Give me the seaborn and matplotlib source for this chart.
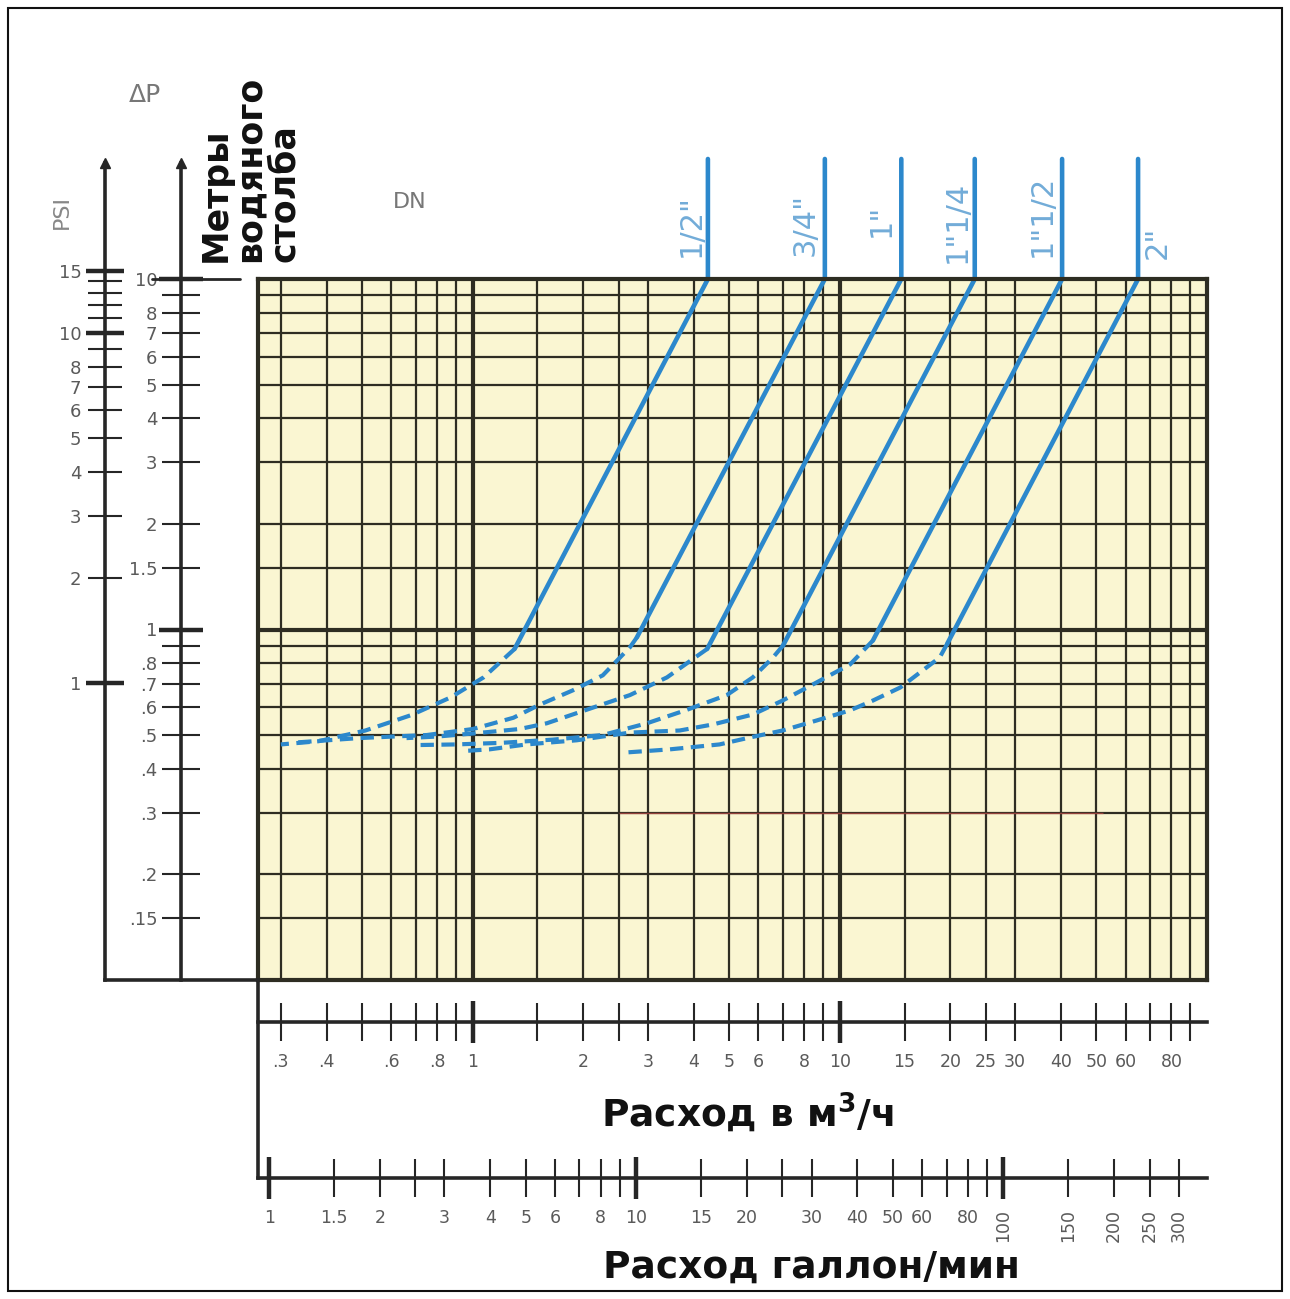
import matplotlib
matplotlib.use('Agg')
import matplotlib.pyplot as plt
from matplotlib.patches import Rectangle
from matplotlib.ticker import FixedLocator, FixedFormatter, NullFormatter
import pandas as pd
import seaborn as sns

# pressure drop curves per pipe size: flow in m3/h, dP in metres of water
sizes = ['1/2"', '3/4"', '1"', '1"1/4', '1"1/2', '2"']
q_top = [4.37, 9.1, 14.7, 23.3, 40.3, 64.9]      # flow where each curve meets the 10 m line
q_knee = [1.30, 2.80, 4.35, 7.0, 12.3, 19.6]     # end of the solid part
p_knee = [0.88, 0.95, 0.88, 0.90, 0.93, 0.91]
p_lead = 22.0                                    # top of the vertical leaders

dash_q = [
    [1.30, 1.07, 0.87, 0.68, 0.51, 0.38, 0.30],
    [2.80, 2.68, 2.26, 1.87, 1.52, 1.29, 1.00, 0.75, 0.49, 0.32],
    [4.35, 4.15, 3.38, 2.68, 2.04, 1.59, 1.34, 1.00, 0.80, 0.66],
    [7.0, 6.56, 5.79, 4.92, 3.83, 2.98, 2.26, 1.65, 1.20, 0.90, 0.70],
    [12.3, 10.66, 8.44, 6.98, 5.79, 4.51, 3.66, 2.68, 1.92, 1.40, 1.11, 0.94],
    [19.6, 18.7, 16.8, 14.6, 12.3, 10.66, 8.64, 6.98, 5.69, 4.70, 3.44, 2.63],
]
dash_p = [
    [0.88, 0.73, 0.64, 0.57, 0.515, 0.48, 0.47],
    [0.95, 0.89, 0.74, 0.67, 0.61, 0.56, 0.52, 0.50, 0.49, 0.475],
    [0.88, 0.85, 0.73, 0.65, 0.59, 0.54, 0.52, 0.505, 0.495, 0.49],
    [0.90, 0.83, 0.73, 0.65, 0.59, 0.54, 0.50, 0.485, 0.475, 0.47, 0.468],
    [0.93, 0.795, 0.697, 0.627, 0.572, 0.536, 0.515, 0.508, 0.483, 0.47, 0.455, 0.45],
    [0.91, 0.832, 0.764, 0.683, 0.627, 0.588, 0.550, 0.515, 0.492, 0.47, 0.455, 0.446],
]

# paper grid
grid_x_major = [1, 10]
grid_x_minor = [0.3, 0.4, 0.5, 0.6, 0.7, 0.8, 0.9, 1.5, 2, 2.5, 3, 4, 5, 6, 7, 8, 9,
                15, 20, 25, 30, 40, 50, 60, 70, 80, 90]
grid_y_major = [1]
grid_y_minor = [0.15, 0.2, 0.3, 0.4, 0.5, 0.6, 0.7, 0.8, 0.9, 1.5, 2, 3, 4, 5, 6, 7, 8, 9]

# left scales
m_major = [1, 10]
m_minor = [0.15, 0.2, 0.3, 0.4, 0.5, 0.6, 0.7, 0.8, 0.9, 1.5, 2, 3, 4, 5, 6, 7, 8, 9]
m_minor_labels = ['.15', '.2', '.3', '.4', '.5', '.6', '.7', '.8', '', '1.5',
                  '2', '3', '4', '5', '6', '7', '8', '']
PSI_TO_M = 0.703
psi_major = [1, 10, 15]
psi_minor = [2, 3, 4, 5, 6, 7, 8, 9, 11, 12, 13, 14]
psi_minor_labels = ['2', '3', '4', '5', '6', '7', '8', '', '', '', '', '']

# bottom scales
m3_major = [1, 10]
m3_minor = grid_x_minor
m3_minor_labels = ['.3', '.4', '', '.6', '', '.8', '', '', '2', '', '3', '4', '5', '6', '',
                   '8', '', '15', '20', '25', '30', '40', '50', '60', '', '80', '']
GAL_TO_M3 = 0.279
gal_major = [1, 10, 100]
gal_minor = [1.5, 2, 2.5, 3, 4, 5, 6, 7, 8, 9, 15, 20, 25, 30, 40, 50, 60, 70, 80, 90,
             150, 200, 250, 300]
gal_minor_labels = ['1.5', '2', '', '3', '4', '5', '6', '', '8', '', '15', '20', '', '30',
                    '40', '50', '60', '', '80', '', '150', '200', '250', '300']

# faint red line printed across the chart at 0.3 m
red_q = [2.5, 52]
red_p = 0.3

BLUE = '#2c88cc'
LABEL_BLUE = '#72acd8'
GRID = '#2e2d22'
PAPER = '#faf6d2'
GRAY = '#5a5a5a'
INK = '#262626'

W, H = 1290, 1299
sns.set_style('white')
plt.rcParams['font.family'] = ['DejaVu Sans']
plt.rcParams['mathtext.fontset'] = 'dejavusans'


def rect(x0, y0, x1, y1):
    return [x0 / W, 1 - y1 / H, (x1 - x0) / W, (y1 - y0) / H]


def m_at(ypx):
    # metres value at a pixel row, same log scale as the grid
    return 0.1 * 10 ** ((980 - ypx) / 350.5)


def scale_ticks(a, axis, length, pad):
    side = dict(left=True) if axis == 'y' else dict(bottom=True)
    a.tick_params(axis=axis, which='both', direction='inout', length=length, width=1.5,
                  color=INK, labelsize=13 if axis == 'y' else 12.5, labelcolor=GRAY,
                  pad=pad, **side)
    a.tick_params(axis=axis, which='major', width=3.2, length=length + 3, pad=pad - 1.5)


fig = plt.figure(figsize=(W / 100, H / 100), dpi=100)
fig.add_artist(Rectangle((8 / W, 8 / H), 1 - 16 / W, 1 - 16 / H, transform=fig.transFigure,
                         fill=False, lw=1.5, ec='#111111'))

# ---- main grid ----
ax = fig.add_axes(rect(258, 279, 1207, 980))
ax.set_facecolor(PAPER)
ax.set_xscale('log')
ax.set_yscale('log')

rows = []
for s, qt, qk, pk in zip(sizes, q_top, q_knee, p_knee):
    rows += [(s, qt, p_lead), (s, qt, 10.0), (s, qk, pk)]
solid = pd.DataFrame(rows, columns=['size', 'q', 'p'])
dash = pd.DataFrame([(s, q, p) for s, qs, ps in zip(sizes, dash_q, dash_p)
                     for q, p in zip(qs, ps)], columns=['size', 'q', 'p'])

ax.hlines(red_p, red_q[0], red_q[1], color='#d9534f', lw=1.0, alpha=0.6, zorder=1)
sns.lineplot(data=solid, x='q', y='p', units='size', estimator=None, sort=False,
             color=BLUE, lw=3.3, ax=ax, clip_on=False, solid_joinstyle='miter')
sns.lineplot(data=dash, x='q', y='p', units='size', estimator=None, sort=False,
             color=BLUE, lw=3.0, linestyle=(0, (3.2, 1.8)), ax=ax)

ax.set_xlim(0.26, 100)
ax.set_ylim(0.1, 10)
ax.set_xlabel('')
ax.set_ylabel('')
ax.xaxis.set_major_locator(FixedLocator(grid_x_major))
ax.xaxis.set_minor_locator(FixedLocator(grid_x_minor))
ax.yaxis.set_major_locator(FixedLocator(grid_y_major))
ax.yaxis.set_minor_locator(FixedLocator(grid_y_minor))
for a in (ax.xaxis, ax.yaxis):
    a.set_major_formatter(NullFormatter())
    a.set_minor_formatter(NullFormatter())
ax.tick_params(which='both', length=0)
ax.set_axisbelow(True)
ax.grid(which='major', color=GRID, lw=3.0)
ax.grid(which='minor', color=GRID, lw=1.6)
for sp in ax.spines.values():
    sp.set_color(GRID)
    sp.set_linewidth(3.0)

label_offsets = [(-17, 53), (-20, 55), (-20, 59), (-18, 57), (-20, 63), (19, 37)]
for s, qt, off in zip(sizes, q_top, label_offsets):
    ax.annotate(s, xy=(qt, 10), xytext=off, textcoords='offset pixels', rotation=90,
                ha='center', va='center', fontsize=22, color=LABEL_BLUE,
                annotation_clip=False)

# ---- left scales: PSI and metres ----
ax_psi = fig.add_axes(rect(105, 163, 258, 980))
ax_psi.patch.set_visible(False)
ax_psi.set_yscale('log')
ax_psi.set_ylim(m_at(980) / PSI_TO_M, m_at(163) / PSI_TO_M)
ax_psi.set_xticks([])
for k in ('top', 'right'):
    ax_psi.spines[k].set_visible(False)
for k in ('left', 'bottom'):
    ax_psi.spines[k].set_color(INK)
    ax_psi.spines[k].set_linewidth(2.6)
ax_psi.yaxis.set_major_locator(FixedLocator(psi_major))
ax_psi.yaxis.set_major_formatter(FixedFormatter([str(v) for v in psi_major]))
ax_psi.yaxis.set_minor_locator(FixedLocator(psi_minor))
ax_psi.yaxis.set_minor_formatter(FixedFormatter(psi_minor_labels))
scale_ticks(ax_psi, 'y', 24, 5)
ax_psi.plot([0], [1], marker='^', ms=7, color=INK, transform=ax_psi.transAxes, clip_on=False)

m_frac = (181 - 105) / (258 - 105)
ax_m = fig.add_axes(rect(105, 163, 258, 980))
ax_m.patch.set_visible(False)
ax_m.set_yscale('log')
ax_m.set_ylim(m_at(980), m_at(163))
ax_m.set_xlim(0, 1)
ax_m.set_xticks([])
for k in ('top', 'right', 'bottom'):
    ax_m.spines[k].set_visible(False)
ax_m.spines['left'].set_position(('axes', m_frac))
ax_m.spines['left'].set_color(INK)
ax_m.spines['left'].set_linewidth(2.6)
ax_m.yaxis.set_major_locator(FixedLocator(m_major))
ax_m.yaxis.set_major_formatter(FixedFormatter([str(v) for v in m_major]))
ax_m.yaxis.set_minor_locator(FixedLocator(m_minor))
ax_m.yaxis.set_minor_formatter(FixedFormatter(m_minor_labels))
scale_ticks(ax_m, 'y', 28, 3)
ax_m.axhline(10, xmin=0.31, xmax=0.88, color=INK, lw=2.0)
ax_m.plot([m_frac], [1], marker='^', ms=7, color=INK, transform=ax_m.transAxes, clip_on=False)

# ---- bottom scales: m3/h and gallons per minute ----
ax_m3 = fig.add_axes(rect(258, 1021, 1207, 1022))
ax_m3.patch.set_visible(False)
ax_m3.set_xscale('log')
ax_m3.set_xlim(0.26, 100)
ax_m3.set_yticks([])
for k in ('top', 'right', 'left'):
    ax_m3.spines[k].set_visible(False)
ax_m3.spines['bottom'].set_color(INK)
ax_m3.spines['bottom'].set_linewidth(2.6)
ax_m3.xaxis.set_major_locator(FixedLocator(m3_major))
ax_m3.xaxis.set_major_formatter(FixedFormatter(['1', '10']))
ax_m3.xaxis.set_minor_locator(FixedLocator(m3_minor))
ax_m3.xaxis.set_minor_formatter(FixedFormatter(m3_minor_labels))
scale_ticks(ax_m3, 'x', 27, 9)

ax_gal = fig.add_axes(rect(258, 980, 1207, 1178))
ax_gal.patch.set_visible(False)
ax_gal.set_xscale('log')
ax_gal.set_xlim(0.26 / GAL_TO_M3, 100 / GAL_TO_M3)
ax_gal.set_yticks([])
for k in ('top', 'right'):
    ax_gal.spines[k].set_visible(False)
for k in ('left', 'bottom'):
    ax_gal.spines[k].set_color(INK)
    ax_gal.spines[k].set_linewidth(2.6)
ax_gal.xaxis.set_major_locator(FixedLocator(gal_major))
ax_gal.xaxis.set_major_formatter(FixedFormatter([str(v) for v in gal_major]))
ax_gal.xaxis.set_minor_locator(FixedLocator(gal_minor))
ax_gal.xaxis.set_minor_formatter(FixedFormatter(gal_minor_labels))
scale_ticks(ax_gal, 'x', 27, 9)
for t, v in zip(ax_gal.xaxis.get_major_ticks(len(gal_major)), gal_major):
    if v >= 100:
        t.label1.set_rotation(90)
for t, v in zip(ax_gal.xaxis.get_minor_ticks(len(gal_minor)), gal_minor):
    if v >= 100:
        t.label1.set_rotation(90)

# ---- texts ----
fig.text(145 / W, 1 - 95 / H, 'ΔP', fontsize=18, color='#777777', ha='center', va='center')
fig.text(62 / W, 1 - 212 / H, 'PSI', fontsize=16, color='#888888', rotation=90,
         ha='center', va='center')
fig.text(250 / W, 1 - 262 / H, 'Метры\nводяного\nстолба', fontsize=25, fontweight='bold',
         rotation=90, ha='center', va='bottom', multialignment='left', linespacing=1.0,
         color='#111111')
fig.text(410 / W, 1 - 202 / H, 'DN', fontsize=16, color='#777777', ha='center', va='center')
fig.text(747 / W, 1 - 1112 / H, r'Расход в м$^{\mathbf{3}}$/ч', fontsize=27, fontweight='bold',
         ha='center', va='center', color='#111111')
fig.text(811 / W, 1 - 1268 / H, 'Расход галлон/мин', fontsize=27, fontweight='bold',
         ha='center', va='center', color='#111111')

fig.savefig('out.png', dpi=100, facecolor='white')
